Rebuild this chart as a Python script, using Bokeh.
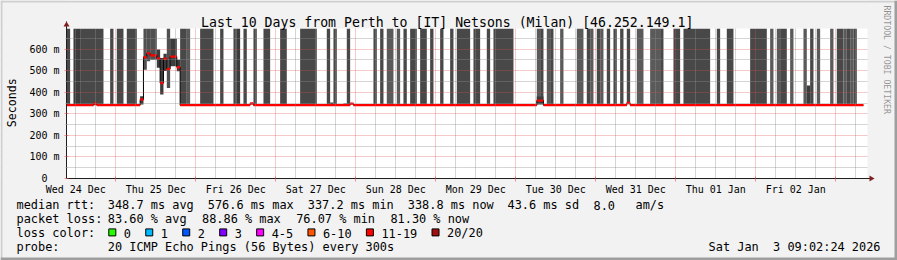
import numpy as np
from bokeh.plotting import figure
from bokeh.models import FixedTicker, Label, BoxAnnotation, PolyAnnotation
from bokeh.embed import file_html
from bokeh.resources import INLINE

# ---------------- data ----------------
title = "Last 10 Days from Perth to [IT] Netsons (Milan) [46.252.149.1]"
y_label = "Seconds"
watermark = "RRDTOOL / TOBI OETIKER"

# time axis in hours since Wed 24 Dec 00:00
day_labels = ["Wed 24 Dec", "Thu 25 Dec", "Fri 26 Dec", "Sat 27 Dec", "Sun 28 Dec",
              "Mon 29 Dec", "Tue 30 Dec", "Wed 31 Dec", "Thu 01 Jan", "Fri 02 Jan"]
day_label_hours = [12, 36, 60, 84, 108, 132, 156, 180, 204, 228]
midnight_hours = [24, 48, 72, 96, 120, 144, 168, 192, 216, 240]
six_hour_marks = [12, 18, 30, 36, 42, 54, 60, 66, 78, 84, 90, 102, 108, 114, 126, 132, 138,
                  150, 156, 162, 174, 180, 186, 198, 204, 210, 222, 228, 234, 246]

y_ticks = [0, 100, 200, 300, 400, 500, 600]
y_tick_labels = ["0\u00a0\u00a0", "100 m", "200 m", "300 m", "400 m", "500 m", "600 m"]
y_minor = [50, 150, 250, 350, 450, 550, 650]

# median rtt (ms): change points (hours) and value of each step
med_t = [9.2, 17.3, 18.3, 31.3, 32.3, 33.3, 34.3, 36.3, 37.3, 38.3, 39.3, 40.3, 42.3, 43.3,
         64.3, 65.3, 94.3, 95.3, 150.3, 152.3, 177.3, 178.3, 248.3]
med_ms = [340, 348, 340, 366, 562, 580, 571, 557, 443, 555, 508, 565, 516, 340,
          348, 340, 347, 340, 361, 340, 350, 340]

# periods with heavy packet loss (lost pings drawn as smoke up to the top)
loss_t0 = [9.2, 11.3, 13.3, 22.3, 24.3, 27.3, 43.3, 45.3, 49.3, 55.3, 59.3, 60.3, 62.3, 65.3,
           68.3, 73.3, 79.3, 87.3, 89.3, 93.3, 101.3, 103.3, 105.3, 108.3, 110.3, 112.3, 115.3,
           118.3, 121.3, 124.3, 126.3, 131.3, 135.3, 137.3, 150.3, 151.3, 153.3, 154.3, 157.3,
           162.3, 165.3, 166.3, 168.3, 169.3, 171.3, 173.3, 175.3, 177.3, 180.3, 184.3, 187.3,
           191.3, 194.3, 204.3, 207.3, 214.3, 220.3, 222.3, 223.3, 226.3, 230.3, 232.3, 234.3,
           238.3, 240.3, 242.3, 243.3, 244.3, 245.3]
loss_t1 = [10.3, 13.3, 20.3, 23.3, 26.3, 30.3, 45.3, 46.3, 53.3, 56.3, 60.3, 61.3, 63.3, 66.3,
           70.3, 75.3, 84.3, 88.3, 90.3, 94.3, 102.3, 104.3, 107.3, 109.3, 111.3, 114.3, 117.3,
           119.3, 122.3, 125.3, 130.3, 133.3, 136.3, 143.3, 151.3, 152.3, 154.3, 155.3, 158.3,
           164.3, 166.3, 167.3, 169.3, 170.3, 172.3, 174.3, 176.3, 178.3, 182.3, 187.3, 188.3,
           193.3, 202.3, 205.3, 209.3, 219.3, 221.3, 223.3, 225.3, 227.3, 231.3, 233.3, 235.3,
           239.3, 242.3, 243.3, 244.3, 245.3, 246.3]
loss_level = [2, 1, 2, 2, 2, 2, 2, 3, 2, 2, 2, 1, 2, 2,
              2, 2, 2, 2, 2, 2, 2, 2, 3, 3, 2, 2, 2,
              2, 2, 2, 2, 2, 2, 2, 3, 2, 3, 2, 3,
              3, 2, 3, 2, 3, 2, 2, 2, 2, 3, 3, 2,
              2, 2, 2, 2, 2, 3, 3, 2, 3, 3, 2, 3,
              3, 2, 3, 2, 3, 2]

# smoke (spread of ping rtts), hi=None means lost pings reach the top
smoke_t0 = [31.3, 32.3, 33.3, 34.3, 36.3, 37.3, 38.3, 39.3, 40.3, 42.3, 88.3, 92.3, 150.3, 231.3]
smoke_t1 = [32.3, 33.3, 34.3, 36.3, 37.3, 38.3, 39.3, 40.3, 42.3, 43.3, 89.3, 93.3, 152.3, 232.3]
smoke_lo = [343, 504, 543, 551, 513, 389, 498, 420, 520, 497, 340, 340, 343, 340]
smoke_hi = [381, None, None, None, 598, 559, 578, None, 648, 551, 352, 348, 380, 431]

rtt_values = [348.7, 576.6, 337.2, 338.8]
rtt_kinds = ["avg", "max", "min", "now"]
rtt_sd = 43.6
rtt_am = 8.0
loss_values = [83.60, 88.86, 76.07, 81.30]
loss_kinds = ["avg", "max", "min", "now"]
loss_color_labels = ["0", "1", "2", "3", "4-5", "6-10", "11-19", "20/20"]
loss_color_hex = ["#26ff00", "#00b8ff", "#0059ff", "#7e00ff", "#ff00ff", "#ff5500", "#ff0000", "#a01010"]
probe_text = "20 ICMP Echo Pings (56 Bytes) every 300s"
date_parts = ["Sat Jan", "3 09:02:24 2026"]

# ---------------- geometry / style ----------------
W, H = 897, 260
CL, CT, CR, CB = 66, 28, 867, 178          # graph canvas edges (px)
AXIS_TOP, AXIS_RIGHT = 21, 873             # axis line ends (arrows)
H_PER_PX = 0.3
MS_PER_PX = 1 / 0.2157
X0 = 9.21                                  # hour at the left canvas edge


def hx(px):
    return X0 + (px - CL) * H_PER_PX


def my(py):
    return (CB - py) * MS_PER_PX


TOP = my(CT)
BACK = "#f2f2f2"
MONO = "DejaVu Sans Mono"
GRAYS = {1: "#3c3c3c", 2: "#484848", 3: "#5a5a5a"}

p = figure(width=W, height=H, x_range=(hx(0), hx(W)), y_range=(my(H), my(0)),
           min_border_left=0, min_border_right=0, min_border_top=0, min_border_bottom=0,
           toolbar_location=None, output_backend="svg",
           background_fill_color="white", border_fill_color=BACK, outline_line_color=None)

# axes at fixed positions inside the frame
xa = p.xaxis[0]
xa.fixed_location = 0
xa.bounds = (X0, hx(AXIS_RIGHT))
xa.ticker = FixedTicker(ticks=day_label_hours, minor_ticks=midnight_hours)
xa.major_label_overrides = {h: l for h, l in zip(day_label_hours, day_labels)}
xa.major_tick_line_color = None
xa.major_tick_in = 0
xa.major_tick_out = 0
xa.minor_tick_line_color = "#de4f4f"
xa.minor_tick_line_alpha = 0.6
xa.minor_tick_in = 2
xa.minor_tick_out = 3
xa.major_label_standoff = 2
ya = p.yaxis[0]
ya.fixed_location = X0
ya.bounds = (0, my(AXIS_TOP))
ya.ticker = FixedTicker(ticks=y_ticks, minor_ticks=y_minor)
ya.major_label_overrides = {v: l for v, l in zip(y_ticks, y_tick_labels)}
ya.major_tick_line_color = "#de4f4f"
ya.major_tick_line_alpha = 0.6
ya.major_tick_in = 2
ya.major_tick_out = 2
ya.minor_tick_line_color = "#8f8f8f"
ya.minor_tick_line_alpha = 0.75
ya.minor_tick_in = 1
ya.minor_tick_out = 1
ya.major_label_standoff = 5
for ax in (xa, ya):
    ax.axis_line_color = "#1f1f1f"
    ax.major_label_text_font = MONO
    ax.major_label_text_font_size = "10px"
    ax.major_label_text_color = "black"

# grids (drawn over the data, like rrdtool)
p.xgrid.ticker = FixedTicker(ticks=midnight_hours, minor_ticks=six_hour_marks)
p.ygrid.ticker = FixedTicker(ticks=y_ticks[1:], minor_ticks=y_minor)
for g in (p.xgrid[0], p.ygrid[0]):
    g.level = "glyph"
    g.grid_line_color = "#de4f4f"
    g.grid_line_alpha = 0.6
    g.grid_line_dash = "1 1"
    g.minor_grid_line_color = "#8f8f8f"
    g.minor_grid_line_alpha = 0.75
    g.minor_grid_line_dash = "1 1"

# data
med_t_arr = np.array(med_t)


def med_at(t):
    return med_ms[int(np.searchsorted(med_t_arr, t, side="right")) - 1]


loss_bottom = [med_at(t + 0.01) for t in loss_t0]
p.quad(left=loss_t0, right=loss_t1, bottom=loss_bottom, top=TOP,
       fill_color=[GRAYS[k] for k in loss_level], line_color=None)
p.quad(left=smoke_t0, right=smoke_t1, bottom=smoke_lo,
       top=[TOP if h is None else h for h in smoke_hi],
       fill_color=["#505050" if h is None else "#3c3c3c" for h in smoke_hi], line_color=None)
p.step(x=med_t, y=med_ms + [med_ms[-1]], mode="after", line_color="#000000", line_width=1)
p.segment(x0=med_t[:-1], x1=med_t[1:], y0=med_ms, y1=med_ms,
          line_color="#ff0000", line_width=2.4, line_cap="butt")

# image background outside the graph canvas (covers grid lines there)
cover = p.quad(left=[hx(0), hx(CR), hx(0), hx(0)],
               right=[hx(CL), hx(W), hx(W), hx(W)],
               bottom=[my(H), my(H), TOP, my(H)],
               top=[my(0), my(0), my(0), 0],
               fill_color=BACK, line_color=None)
cover.level = "guide"


def sbox(x0, x1, y0, y1, color, line=None):
    p.add_layout(BoxAnnotation(left=x0, right=x1, top=H - y0, bottom=H - y1,
                               left_units="screen", right_units="screen",
                               top_units="screen", bottom_units="screen",
                               fill_color=color, fill_alpha=1,
                               line_color=line, line_width=1, line_alpha=1, line_dash="solid"))


# 3D shade border
sbox(0, W, 0, 2, "#cfcfcf")
sbox(0, 2, 0, H, "#cfcfcf")
sbox(0, W, H - 3, H, "#9e9e9e")
sbox(W - 3, W, 0, H, "#9e9e9e")

# axis arrows
p.add_layout(PolyAnnotation(xs=[CL - 3, CL + 3, CL], ys=[H - 26, H - 26, H - AXIS_TOP],
                            xs_units="screen", ys_units="screen",
                            fill_color="#801f1f", fill_alpha=1, line_color=None))
p.add_layout(PolyAnnotation(xs=[AXIS_RIGHT - 4, AXIS_RIGHT - 4, AXIS_RIGHT + 1],
                            ys=[H - CB - 3, H - CB + 3, H - CB],
                            xs_units="screen", ys_units="screen",
                            fill_color="#801f1f", fill_alpha=1, line_color=None))


def text(s, X, Y, size, align="left", baseline="alphabetic", angle=0.0, alpha=1.0):
    p.add_layout(Label(x=X, y=H - Y, x_units="screen", y_units="screen", text=s,
                       text_font=MONO, text_font_size=f"{size}px", text_align=align,
                       text_baseline=baseline, angle=angle, text_color="black",
                       text_alpha=alpha))


text(title, 446.7, 21.5, 13.2, align="center")
text(y_label, 11.5, 102.3, 11.6, align="center", baseline="middle", angle=np.pi / 2)
text(watermark, 886.7, 5, 8.2, align="left", baseline="middle", angle=-np.pi / 2, alpha=0.42)

LS = 11.9
CW = 0.602 * LS
L1, L2, L3, L4 = 204.8, 218.8, 232.8, 246.8
text("median rtt:", 16, L1, LS)
for i, (v, k) in enumerate(zip(rtt_values, rtt_kinds)):
    text(f"{v:.1f} ms {k}", 107.3 + 100 * i, L1, LS)
text(f"{rtt_sd:.1f} ms sd", 507, L1, LS)
text(f"{rtt_am:.1f}", 593, L1, LS)
text("am/s", 635, L1, LS)

text("packet loss:", 16, L2, LS)
for i, (v, k) in enumerate(zip(loss_values, loss_kinds)):
    text(f"{v:.2f} % {k}", 107.3 + 94.2 * i, L2, LS)

text("loss color:", 16, L3, LS)
bx = 108.3
for lab, col in zip(loss_color_labels, loss_color_hex):
    sbox(bx, bx + 7, 228.4, 235.4, col, line="black")
    text(lab, bx + 15, L3, LS)
    bx = bx + 15 + len(lab) * CW + 14.8

text("probe:", 16, L4, LS)
text(probe_text, 107.3, L4, LS)
text(date_parts[1], 880, L4, LS, align="right")
text(date_parts[0], 880 - (len(date_parts[1]) + 2) * CW, L4, LS, align="right")

open("out.html", "w").write(file_html(p, INLINE))
